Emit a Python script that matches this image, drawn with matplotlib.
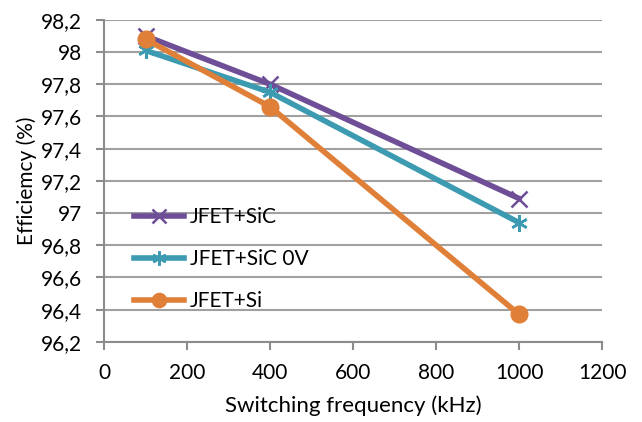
import matplotlib
matplotlib.use("Agg")
import matplotlib.pyplot as plt
from matplotlib.ticker import FuncFormatter

# data
freq = [100, 400, 1000]
eff_sic = [98.10, 97.80, 97.09]
eff_sic_0v = [98.01, 97.75, 96.94]
eff_si = [98.08, 97.66, 96.37]

plt.rcParams['font.family'] = ['Lato', 'DejaVu Sans']

fig = plt.figure(figsize=(6.42, 4.22), dpi=100)
ax = fig.add_axes([0.162, 0.19, 0.776, 0.763])

ax.plot(freq, eff_sic, color='#6E4E96', lw=4, marker='x', ms=12, mew=1.8,
        label='JFET+SiC', zorder=3)
ax.plot(freq, eff_sic_0v, color='#3C9AB1', lw=4, marker=(6, 2, 0), ms=12, mew=1.8,
        label='JFET+SiC 0V', zorder=3)
ax.plot(freq, eff_si, color='#E07F37', lw=4, marker='o', ms=12,
        label='JFET+Si', zorder=4)

ax.set_xlim(0, 1200)
ax.set_ylim(96.2, 98.2)
ax.set_xticks(range(0, 1201, 200))
ax.set_yticks([96.2 + 0.2 * i for i in range(11)])
ax.yaxis.set_major_formatter(FuncFormatter(lambda v, p: f"{v:.1f}".rstrip('0').rstrip('.').replace('.', ',')))

ax.grid(axis='y', color='#A0A0A0', lw=1.5)
ax.set_axisbelow(True)
for s in ['top', 'right']:
    ax.spines[s].set_visible(False)
for s in ['left', 'bottom']:
    ax.spines[s].set_color('#8C8C8C')
    ax.spines[s].set_linewidth(1.5)
ax.tick_params(axis='both', colors='#8C8C8C', length=6, width=1.5, labelsize=15,
               labelcolor='black')
ax.tick_params(axis='y', pad=10)
ax.tick_params(axis='x', pad=9)

ax.set_xlabel('Switching frequency (kHz)', fontsize=16)
ax.set_ylabel('Efficiemcy (%)', fontsize=15)
ax.xaxis.set_label_coords(0.5, -0.165)
ax.yaxis.set_label_coords(-0.135, 0.5)

ax.legend(loc='lower left', bbox_to_anchor=(0.022, 0.038), frameon=False, fontsize=15,
          handlelength=2.4, labelspacing=1.05, handletextpad=0.3, markerscale=0.85)

fig.savefig('out.png', dpi=100)
